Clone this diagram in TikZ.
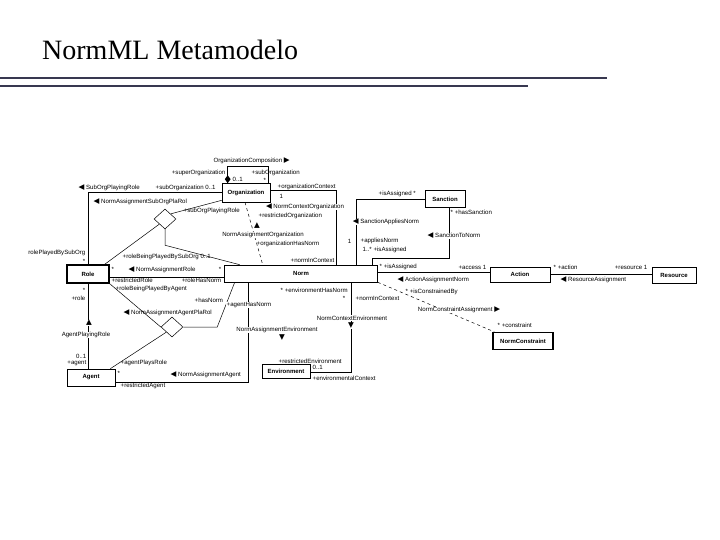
\documentclass[tikz,border=0pt]{standalone}
\usepackage{fontspec}
\setmainfont{Liberation Serif}
\newfontfamily\diagfont{Liberation Sans}
\newfontfamily\symfont{DejaVu Sans}
\definecolor{RuleSlate}{RGB}{56,56,80}
\newcommand{\dirL}{{\symfont\fontsize{7.5}{7}\selectfont\char"25C0}}
\newcommand{\dirR}{{\symfont\fontsize{7.5}{7}\selectfont\char"25B6}}
\newcommand{\dirU}{{\symfont\fontsize{7.5}{7}\selectfont\char"25B2}}
\newcommand{\dirD}{{\symfont\fontsize{7.5}{7}\selectfont\char"25BC}}
\usetikzlibrary{shapes.geometric}

\begin{document}
\begin{tikzpicture}[x=1pt,y=-1pt,
  every node/.style={font=\diagfont\fontsize{6.1}{7}\selectfont,inner sep=0.5pt},
  cls/.style={draw,fill=white,line width=0.6pt,inner sep=0pt,
              font=\diagfont\bfseries\fontsize{6}{7}\selectfont},
  clsthick/.style={cls,line width=1.3pt},
  link/.style={line width=0.5pt},
  hub/.style={diamond,draw,fill=white,line width=0.5pt,inner sep=0pt,
              aspect=1.1,minimum width=22pt,minimum height=20pt},
  tag/.style={fill=white,inner sep=0.3pt}]
  \useasboundingbox (0,0) rectangle (720,540);

  % title and rules
  \node[anchor=base west,inner sep=0pt,font=\rmfamily\fontsize{28}{30}\selectfont]
    (title) at (42,60) {NormML Metamodelo};
  \draw[RuleSlate,line width=1.2pt] (0,78) -- (607,78);
  \draw[RuleSlate,line width=1.2pt] (0,86) -- (528,86);

  % classes
  \foreach \n/\x/\y/\w/\h/\t in {
      org/246/192.5/48pt/19pt/Organization,
      sanction/445/199/40pt/17pt/Sanction,
      norm/301/273.5/153pt/17pt/Norm,
      action/520/274.5/60pt/15pt/Action,
      resource/674/275/44pt/16pt/Resource,
      agent/91/377.5/48pt/17pt/Agent,
      env/286/371.5/48pt/14pt/Environment}{
    \node[cls,minimum width=\w,minimum height=\h] (\n) at (\x,\y) {\t};
  }
  \node[clsthick,minimum width=42pt,minimum height=18pt] (role) at (88,274) {Role};
  \node[clsthick,minimum width=60pt,minimum height=17pt] (ncon) at (523,341) {NormConstraint};

  \node[hub] (subHub) at (165,219) {};
  \node[hub] (agentHub) at (172,327) {};

  % associations
  \draw[link] ([xshift=6pt]org.north west) -- ++(0,-16) -| ([xshift=-2pt]org.north east);
  \node[diamond,fill=black,inner sep=0pt,aspect=0.75,minimum width=6pt,minimum height=8pt]
    (compTip) at ([xshift=6pt,yshift=3.5pt]org.north west) {};
  \draw[link] (org.west) -| (role.north);
  \draw[link] (subHub.north east) -- ([yshift=2pt]org.south west);
  \draw[link] (subHub.south west) -- ([xshift=-5pt]role.north east);
  \draw[link] (subHub.south) -- ++(0,16) -- ([xshift=15.5pt]norm.north west);
  \draw[link,dashed] ([xshift=-1pt]org.south) -- ([xshift=38.5pt]norm.north west);
  \draw[link] ([yshift=2.5pt]org.east) -| ([xshift=112.5pt]norm.north west);
  \draw[link] (sanction.west) -| ([xshift=132.5pt]norm.north west);
  \draw[link] ([xshift=4pt]sanction.south) -- ++(0,50) -| ([xshift=148.5pt]norm.north west);
  \draw[link] ([yshift=-3pt]role.east) -- ([yshift=-3pt]role.east -| norm.west);
  \draw[link] ([yshift=1pt]norm.east) -- ([yshift=1pt]norm.east -| action.west);
  \draw[link] (action.east) -- (action.east -| resource.west);
  \draw[link,dashed] (norm.south east) -- ([xshift=2pt]ncon.north west);
  \draw[link] (role.south) -- (role.south |- agent.north);
  \draw[link] (agentHub.west) -- (role.south east);
  \draw[link] (agentHub.south west) -- ([xshift=-5pt]agent.north east);
  \draw[link] (agentHub.east) -- ++(34,0) -- ([xshift=10.5pt]norm.south west);
  \draw[link] ([yshift=-4.5pt]agent.east) -| ([xshift=24.5pt]norm.south west);
  \draw[link] ([yshift=-0.5pt]env.east) -| ([xshift=127.5pt]norm.south west);

  % role names and multiplicities
  \foreach \x/\y/\t [count=\i] in {
      213/161/{OrganizationComposition \dirR},
      232/179/{0..1}, 251/173/{+subOrganization}, 263/180/{*},
      78/188/{\dirL\ SubOrgPlayingRole}, 155/188/{+subOrganization 0..1},
      93/202/{\dirL\ NormAssignmentSubOrgPlaRol}, 183/211/{+subOrgPlayingRole},
      122/257/{+roleBeingPlayedBySubOrg 0..1},
      258/216/{+restrictedOrganization}, 256/244/{+organizationHasNorm},
      290/260/{+normInContext}, 277/187/{+organizationContext}, 279/196/{1},
      360/241/{+appliesNorm}, 362/250/{1..* +isAssigned},
      378/194/{+isAssigned *}, 450/212/{* +hasSanction},
      128/270/{\dirL\ NormAssignmentRole}, 111/269/{*}, 111/280/{+restrictedRole},
      115/289/{+roleBeingPlayedByAgent}, 194/300/{+hasNorm},
      123/313/{\dirL\ NormAssignmentAgentPlaRol}, 120/363/{+agentPlaysRole},
      117/373/{*}, 170/375/{\dirL\ NormAssignmentAgent}, 120/386/{+restrictedAgent},
      280/290/{* +environmentHasNorm}, 355/298/{+normInContext},
      278/361/{+restrictedEnvironment}, 312/367/{0..1}, 312/378/{+environmentalContext},
      379/267/{* +isAssigned}, 397/280/{\dirL\ ActionAssignmentNorm},
      405/292/{* +isConstrainedBy}, 497/325/{* +constraint},
      553/267/{* +action}, 560/280/{\dirL\ ResourceAssignment}}{
    \node[anchor=west] (lw\i) at (\x,\y) {\t};
  }
  \foreach \x/\y/\t [count=\i] in {
      226/173/{+superOrganization}, 86/253/{rolePlayedBySubOrg}, 86/261/{*},
      352/241/{1}, 222/269/{*}, 222/280/{+roleHasNorm}, 86/290/{*}, 86/298/{+role},
      87/356/{0..1}, 87/363/{+agent}, 346/298/{*},
      487/267/{+access 1}, 648/267/{+resource 1}}{
    \node[anchor=east] (le\i) at (\x,\y) {\t};
  }
  \foreach \x/\y/\t [count=\i] in {
      305/207/{\dirL\ NormContextOrganization}, 257/226/{\dirU},
      263/235/{NormAssignmentOrganization}, 386/222/{\dirL\ SanctionAppliesNorm},
      454/236/{\dirL\ SanctionToNorm}, 89/323/{\dirU}, 86/335/{AgentPlayingRole},
      249/305/{+agentHasNorm}, 277/330/{NormAssignmentEnvironment}, 282/338/{\dirD},
      352/318/{NormContextEnvironment}, 351/326/{\dirD},
      459/310/{NormConstraintAssignment \dirR}}{
    \node[tag] (lc\i) at (\x,\y) {\t};
  }
\end{tikzpicture}
\end{document}
